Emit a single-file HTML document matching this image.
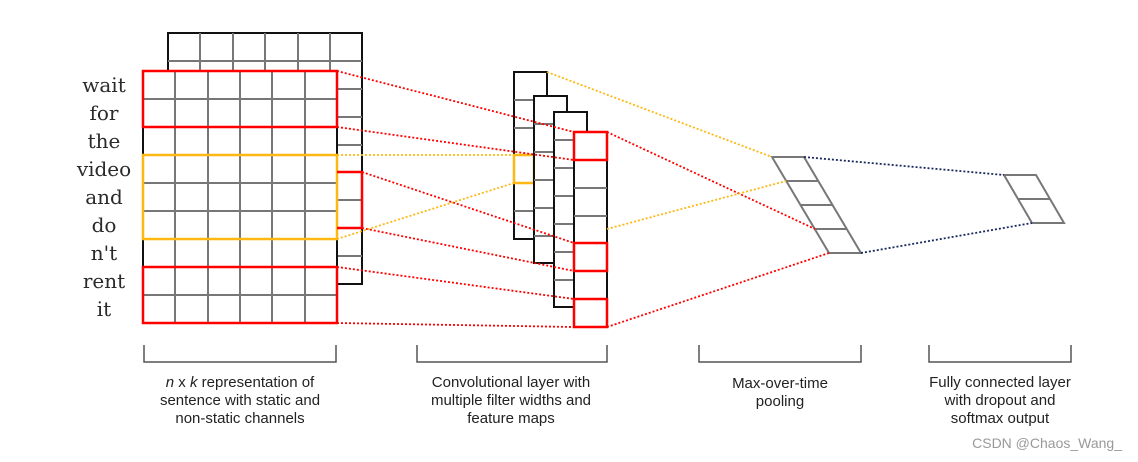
<!DOCTYPE html>
<html><head><meta charset="utf-8"><style>
html,body{margin:0;padding:0;background:#fff;}
svg{display:block;}
.w{font-family:"DejaVu Serif",Georgia,serif;font-size:20px;fill:#2a2a2a;text-anchor:middle;}
.l{font-family:"Liberation Sans",Arial,sans-serif;font-size:15px;fill:#222;text-anchor:middle;}
</style></head><body>
<svg width="1138" height="462" viewBox="0 0 1138 462" xmlns="http://www.w3.org/2000/svg">
<g fill="none">
<rect x="168" y="33" width="194" height="251" fill="#fff" stroke="#111" stroke-width="2"/>
<g stroke="#777" stroke-width="2">
<line x1="200" y1="33" x2="200" y2="71"/><line x1="233" y1="33" x2="233" y2="71"/><line x1="265" y1="33" x2="265" y2="71"/><line x1="298" y1="33" x2="298" y2="71"/><line x1="330" y1="33" x2="330" y2="71"/>
<line x1="168" y1="61" x2="362" y2="61"/>
<line x1="337" y1="89" x2="362" y2="89"/><line x1="337" y1="117" x2="362" y2="117"/><line x1="337" y1="145" x2="362" y2="145"/><line x1="337" y1="200" x2="362" y2="200"/><line x1="337" y1="256" x2="362" y2="256"/>
</g>
<rect x="143" y="71" width="194" height="252" fill="#fff" stroke="#111" stroke-width="2"/>
<g stroke="#777" stroke-width="2">
<line x1="175" y1="71" x2="175" y2="323"/><line x1="208" y1="71" x2="208" y2="323"/><line x1="240" y1="71" x2="240" y2="323"/><line x1="272" y1="71" x2="272" y2="323"/><line x1="305" y1="71" x2="305" y2="323"/>
<line x1="143" y1="99" x2="337" y2="99"/><line x1="143" y1="127" x2="337" y2="127"/><line x1="143" y1="155" x2="337" y2="155"/><line x1="143" y1="183" x2="337" y2="183"/><line x1="143" y1="211" x2="337" y2="211"/><line x1="143" y1="239" x2="337" y2="239"/><line x1="143" y1="267" x2="337" y2="267"/><line x1="143" y1="295" x2="337" y2="295"/>
</g>
<rect x="143" y="71" width="194" height="56" stroke="#f00" stroke-width="2.5"/>
<rect x="143" y="267" width="194" height="56" stroke="#f00" stroke-width="2.5"/>
<rect x="143" y="155" width="194" height="84" stroke="#fdb813" stroke-width="2.5"/>
<polyline points="337,172 362,172 362,228 337,228" stroke="#f00" stroke-width="2.5"/>

<rect x="514" y="72" width="33" height="167" fill="#fff" stroke="#111" stroke-width="2"/>
<g stroke="#777" stroke-width="2"><line x1="514" y1="100" x2="534" y2="100"/><line x1="514" y1="128" x2="534" y2="128"/><line x1="514" y1="211" x2="534" y2="211"/></g>
<rect x="514" y="155" width="20" height="28" stroke="#fdb813" stroke-width="2.5"/>
<rect x="534" y="96" width="33" height="167" fill="#fff" stroke="#111" stroke-width="2"/>
<g stroke="#777" stroke-width="2"><line x1="534" y1="124" x2="554" y2="124"/><line x1="534" y1="152" x2="554" y2="152"/><line x1="534" y1="180" x2="554" y2="180"/><line x1="534" y1="208" x2="554" y2="208"/><line x1="534" y1="236" x2="554" y2="236"/></g>
<rect x="554" y="112" width="33" height="195" fill="#fff" stroke="#111" stroke-width="2"/>
<g stroke="#777" stroke-width="2"><line x1="554" y1="140" x2="574" y2="140"/><line x1="554" y1="168" x2="574" y2="168"/><line x1="554" y1="196" x2="574" y2="196"/><line x1="554" y1="224" x2="574" y2="224"/><line x1="554" y1="252" x2="574" y2="252"/><line x1="554" y1="280" x2="574" y2="280"/></g>
<rect x="574" y="132" width="33" height="195" fill="#fff" stroke="#111" stroke-width="2"/>
<g stroke="#777" stroke-width="2"><line x1="574" y1="188" x2="607" y2="188"/><line x1="574" y1="216" x2="607" y2="216"/></g>
<rect x="574" y="132" width="33" height="28" stroke="#f00" stroke-width="2.5"/>
<rect x="574" y="243" width="33" height="28" stroke="#f00" stroke-width="2.5"/>
<rect x="574" y="299" width="33" height="28" stroke="#f00" stroke-width="2.5"/>

<g stroke="#777" stroke-width="2">
<polygon points="772,157 804,157 861,253 829,253"/>
<line x1="786" y1="181" x2="818" y2="181"/><line x1="800" y1="205" x2="832" y2="205"/><line x1="815" y1="229" x2="847" y2="229"/>
<polygon points="1004,175 1036,175 1064,223 1032,223"/>
<line x1="1018" y1="199" x2="1050" y2="199"/>
</g>

<g stroke-dasharray="2,2" stroke-width="1.8">
<g stroke="#f00">
<line x1="337" y1="71" x2="574" y2="132"/><line x1="337" y1="127" x2="574" y2="160"/>
<line x1="362" y1="172" x2="574" y2="243"/><line x1="362" y1="228" x2="574" y2="271"/>
<line x1="337" y1="267" x2="574" y2="299"/><line x1="337" y1="323" x2="574" y2="327"/>
<line x1="607" y1="132" x2="815" y2="229"/><line x1="607" y1="327" x2="829" y2="253"/>
</g>
<g stroke="#fdb813">
<line x1="337" y1="155" x2="514" y2="155"/><line x1="337" y1="239" x2="514" y2="183"/>
<line x1="547" y1="72" x2="772" y2="157"/><line x1="607" y1="229" x2="786" y2="181"/>
</g>
<g stroke="#1a2a5e">
<line x1="804" y1="157" x2="1004" y2="175"/><line x1="861" y1="253" x2="1032" y2="223"/>
</g>
</g>

<g stroke="#555" stroke-width="1.5">
<polyline points="144,345 144,362 336,362 336,345"/>
<polyline points="417,345 417,362 607,362 607,345"/>
<polyline points="699,345 699,362 861,362 861,345"/>
<polyline points="929,345 929,362 1071,362 1071,345"/>
</g>
</g>

<text class="w" x="104" y="92">wait</text>
<text class="w" x="104" y="120">for</text>
<text class="w" x="104" y="148">the</text>
<text class="w" x="104" y="176">video</text>
<text class="w" x="104" y="204">and</text>
<text class="w" x="104" y="232">do</text>
<text class="w" x="104" y="260">n't</text>
<text class="w" x="104" y="288">rent</text>
<text class="w" x="104" y="316">it</text>

<text class="l" x="240" y="387"><tspan font-style="italic">n</tspan> x <tspan font-style="italic">k</tspan> representation of</text>
<text class="l" x="240" y="405">sentence with static and</text>
<text class="l" x="240" y="423">non-static channels</text>
<text class="l" x="511" y="387">Convolutional layer with</text>
<text class="l" x="511" y="405">multiple filter widths and</text>
<text class="l" x="511" y="423">feature maps</text>
<text class="l" x="780" y="388">Max-over-time</text>
<text class="l" x="780" y="406">pooling</text>
<text class="l" x="1000" y="387">Fully connected layer</text>
<text class="l" x="1000" y="405">with dropout and</text>
<text class="l" x="1000" y="423">softmax output</text>
<text x="1122" y="448" font-family="'Liberation Sans',Arial,sans-serif" font-size="14" fill="#999" text-anchor="end">CSDN @Chaos_Wang_</text>
</svg>
</body></html>
